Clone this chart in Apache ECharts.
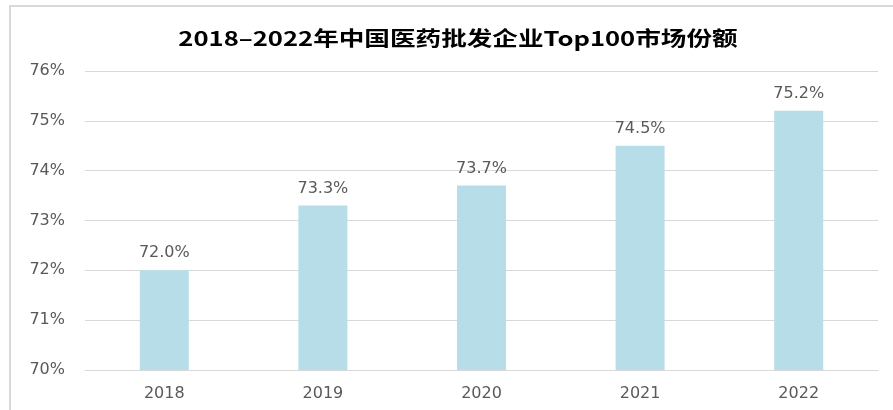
<!DOCTYPE html>
<html>
<head>
<meta charset="utf-8">
<script src="https://cdn.jsdelivr.net/npm/echarts@6/dist/echarts.min.js"></script>
<style>html,body{margin:0;padding:0;background:#fff}#c{width:893px;height:410px}</style>
</head>
<body>
<div id="c"></div>
<script>
const titleText = '2018–2022年中国医药批发企业Top100市场份额';
const categories = ['2018', '2019', '2020', '2021', '2022'];
const shareValues = [72.0, 73.3, 73.7, 74.5, 75.2];
const yTicks = { min: 70, max: 76, interval: 1 };

const chart = echarts.init(document.getElementById('c'), null, { renderer: 'canvas' });
chart.setOption({
  backgroundColor: '#ffffff',
  animation: false,
  graphic: [
    { type: 'rect', shape: { x: 10, y: 6, width: 1000, height: 1000 }, style: { fill: 'none', stroke: '#d9d9d9', lineWidth: 2 }, silent: true },
    { type: 'text', x: 458, y: 38, scaleX: 1.28, style: { text: titleText, x: 0, y: 0, align: 'center', verticalAlign: 'middle', fontSize: 20, fontWeight: 'bold', fontFamily: 'Noto Sans CJK SC', fill: '#000000' } }
  ],
  grid: { left: 85, right: 15, top: 71, bottom: 40 },
  xAxis: {
    type: 'category',
    data: categories,
    axisLine: { lineStyle: { color: '#d9d9d9', width: 1 } },
    axisTick: { show: false },
    axisLabel: { color: '#595959', fontSize: 16, fontFamily: 'DejaVu Sans', margin: 16 }
  },
  yAxis: {
    type: 'value',
    min: yTicks.min, max: yTicks.max, interval: yTicks.interval,
    axisLine: { show: false },
    axisTick: { show: false },
    splitLine: { lineStyle: { color: '#d9d9d9', width: 1 } },
    axisLabel: { color: '#595959', fontSize: 16, fontFamily: 'DejaVu Sans', margin: 20, formatter: '{value}%' }
  },
  series: [{
    type: 'bar',
    data: shareValues,
    barWidth: 49,
    itemStyle: { color: '#b7dde8' },
    label: {
      show: true, position: 'top', distance: 9,
      color: '#595959', fontSize: 16, fontFamily: 'DejaVu Sans',
      formatter: p => p.value.toFixed(1) + '%'
    }
  }]
});
</script>
</body>
</html>
